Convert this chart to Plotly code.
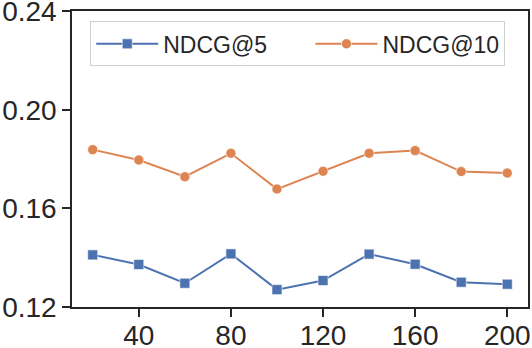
import plotly.graph_objects as go

# --- data ---
x_vals = [20, 40, 60, 80, 100, 120, 140, 160, 180, 200]
ndcg5 = [0.1411, 0.1372, 0.1296, 0.1415, 0.1270, 0.1307, 0.1414, 0.1373, 0.1300, 0.1292]
ndcg10 = [0.1838, 0.1796, 0.1728, 0.1823, 0.1678, 0.1750, 0.1823, 0.1834, 0.1749, 0.1743]
x_ticks = [40, 80, 120, 160, 200]
y_ticks = [0.12, 0.16, 0.20, 0.24]

BLUE = "#4C72B0"
ORANGE = "#DD8452"
INK = "#262626"
PAD = "\u00a0" * 6  # widens the first legend entry

fig = go.Figure()
fig.add_trace(go.Scatter(
    x=x_vals, y=ndcg5, name="NDCG@5" + PAD, mode="lines+markers",
    line=dict(color=BLUE, width=2),
    marker=dict(symbol="square", size=10, color=BLUE, line=dict(color="white", width=0.6)),
))
fig.add_trace(go.Scatter(
    x=x_vals, y=ndcg10, name="NDCG@10", mode="lines+markers",
    line=dict(color=ORANGE, width=2),
    marker=dict(symbol="circle", size=10, color=ORANGE, line=dict(color="white", width=0.6)),
))

axis_common = dict(
    showline=True, linecolor=INK, linewidth=1.5, mirror=True,
    ticks="outside", ticklen=8, tickwidth=1.5, tickcolor=INK,
    showgrid=False, zeroline=False, ticklabeloverflow="allow", automargin=False,
    tickfont=dict(family="Liberation Sans, Arial, sans-serif", size=28, color=INK),
)
fig.update_xaxes(range=[11, 209], tickvals=x_ticks, ticklabelstandoff=-5, **axis_common)
fig.update_yaxes(range=[0.11995, 0.24005], tickvals=y_ticks, tickformat=".2f",
                 ticklabelstandoff=0, **axis_common)

fig.update_layout(
    width=532, height=348,
    margin=dict(l=72, r=4, t=11, b=41, autoexpand=False),
    plot_bgcolor="white", paper_bgcolor="white",
    font=dict(family="Liberation Sans, Arial, sans-serif", color=INK),
    legend=dict(
        orientation="h", x=0.04, y=0.965, xanchor="left", yanchor="top",
        font=dict(size=23, color=INK),
        bordercolor="#d0d0d0", borderwidth=1, bgcolor="white",
        itemwidth=62,
    ),
)

# page body has an 8px default margin; drop it so the figure sits at the window corner
fig.write_html("out.html", config={"displayModeBar": False},
               post_script="document.body.style.margin='0';")
